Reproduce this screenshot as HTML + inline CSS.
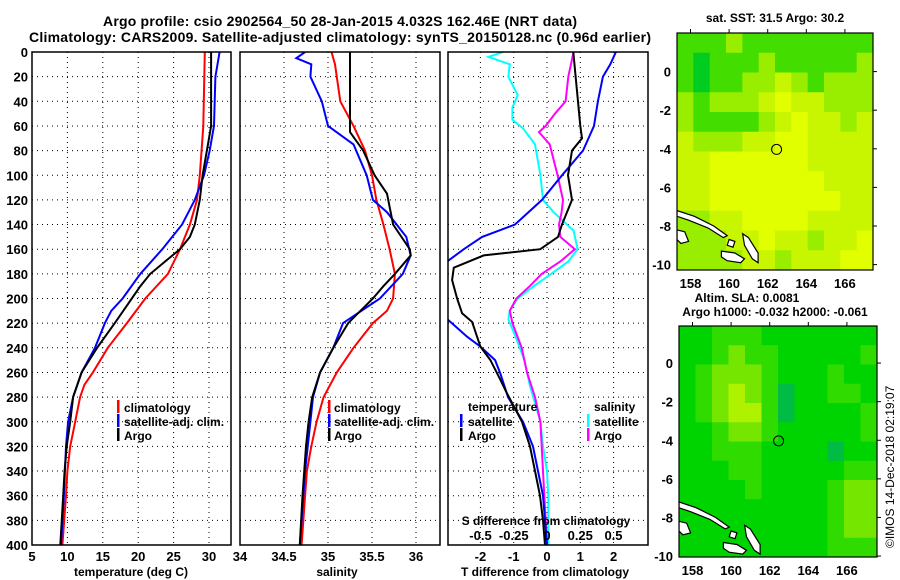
<!DOCTYPE html>
<html><head><meta charset="utf-8"><style>
html,body{margin:0;padding:0;background:#fff}
svg{display:block}
text{font-family:"Liberation Sans",sans-serif;font-weight:bold;fill:#000}
</style></head><body>
<svg id="chart" width="900" height="580" viewBox="0 0 900 580" xmlns="http://www.w3.org/2000/svg">
<defs>
<clipPath id="c1"><rect x="32" y="52" width="199" height="493"/></clipPath>
<clipPath id="c2"><rect x="240" y="52" width="200" height="493"/></clipPath>
<clipPath id="c3"><rect x="448" y="52" width="200" height="493"/></clipPath>
<clipPath id="cm1"><rect x="677" y="33" width="196" height="237"/></clipPath>
<clipPath id="cm2"><rect x="679" y="326" width="198" height="231"/></clipPath>
</defs>
<g>
<text x="340" y="26" font-size="14" text-anchor="middle" textLength="474">Argo profile: csio 2902564_50 28-Jan-2015 4.032S 162.46E (NRT data)</text>
<text x="340" y="42" font-size="14" text-anchor="middle" textLength="622">Climatology: CARS2009. Satellite-adjusted climatology: synTS_20150128.nc (0.96d earlier)</text>
</g>
<g id="grid"></g>
<g id="maps"></g>
<g id="series"></g>
<g id="axes"></g>
<g>
<rect x="117" y="400" width="2.5" height="13" fill="#f00"/><text x="124" y="412" font-size="12">climatology</text>
<rect x="117" y="414" width="2.5" height="13" fill="#00f"/><text x="124" y="426" font-size="12">satellite-adj. clim.</text>
<rect x="117" y="428" width="2.5" height="13" fill="#000"/><text x="124" y="440" font-size="12">Argo</text>
</g>
<g>
<rect x="328" y="400" width="2.5" height="13" fill="#f00"/><text x="334" y="412" font-size="12">climatology</text>
<rect x="328" y="414" width="2.5" height="13" fill="#00f"/><text x="334" y="426" font-size="12">satellite-adj. clim.</text>
<rect x="328" y="428" width="2.5" height="13" fill="#000"/><text x="334" y="440" font-size="12">Argo</text>
</g>
<g>
<text x="468" y="411" font-size="12">temperature</text>
<rect x="460" y="414" width="2.5" height="13" fill="#00f"/><text x="468" y="426" font-size="12">satellite</text>
<rect x="460" y="428" width="2.5" height="13" fill="#000"/><text x="468" y="440" font-size="12">Argo</text>
<text x="594" y="411" font-size="12">salinity</text>
<rect x="587" y="414" width="2.5" height="13" fill="#0ff"/><text x="594" y="426" font-size="12">satellite</text>
<rect x="587" y="428" width="2.5" height="13" fill="#f0f"/><text x="594" y="440" font-size="12">Argo</text>
</g>
<text x="546" y="525" font-size="12" text-anchor="middle">S difference from climatology</text>
<text x="131" y="576" font-size="12" text-anchor="middle">temperature (deg C)</text>
<text x="337" y="576" font-size="12" text-anchor="middle">salinity</text>
<text x="545" y="576" font-size="12" text-anchor="middle">T difference from climatology</text>
<text x="775" y="22" font-size="12" text-anchor="middle">sat. SST: 31.5 Argo: 30.2</text>
<text x="747" y="302" font-size="12" text-anchor="middle">Altim. SLA: 0.0081</text>
<text x="775" y="316" font-size="12" text-anchor="middle">Argo h1000: -0.032 h2000: -0.061</text>
<text x="0" y="0" font-size="12" transform="translate(894,548) rotate(-90)" style="font-weight:normal">©IMOS 14-Dec-2018 02:19:07</text>
</svg>
<script>
// ---- profile data (depth m, values) ----
const climDepth=[0,60,100,120,140,160,180,200,220,240,260,270,280,300,320,340,360,400];
const climTemp=[29.4,29.2,28.7,28.3,27.3,25.9,24.2,21.0,18.4,15.7,13.6,12.4,11.8,11.1,10.4,10.0,9.8,9.3];
const satDepth=[0,20,60,80,100,120,140,160,180,200,210,220,240,260,280,300,320,360,400];
const satTemp=[31.5,30.9,30.7,30.1,29.3,28.0,26.2,23.4,20.3,17.8,16.2,15.3,13.9,12.0,10.8,10.1,9.8,9.5,9.1];
const argoDepth=[0,60,70,100,120,140,150,160,170,180,190,200,220,240,260,280,300,320,340,360,400];
const argoTemp=[30.3,30.3,30.0,29.1,28.7,28.0,27.3,25.9,23.8,21.7,20.3,19.1,16.7,14.2,12.0,10.8,10.4,9.9,9.6,9.4,9.0];
const climSalDepth=[0,10,40,60,80,100,120,140,160,180,200,210,220,240,260,280,300,320,340,360,400];
const climSal=[35.04,35.08,35.14,35.29,35.42,35.50,35.55,35.63,35.70,35.76,35.74,35.67,35.51,35.29,35.10,34.95,34.87,34.81,34.76,34.74,34.70];
const satSalDepth=[0,5,10,20,40,60,75,100,120,130,150,165,180,200,220,240,260,280,300,340,400];
const satSal=[34.74,34.64,34.81,34.80,34.93,35.00,35.29,35.44,35.51,35.67,35.89,35.94,35.85,35.59,35.17,35.06,34.91,34.83,34.80,34.74,34.68];
const argoSalDepth=[0,65,80,100,115,140,160,165,180,190,200,220,240,260,280,300,320,360,400];
const argoSal=[35.25,35.25,35.40,35.53,35.67,35.74,35.93,35.94,35.76,35.63,35.51,35.23,35.06,34.91,34.82,34.78,34.75,34.71,34.68];
const dSatTDepth=[0,10,20,40,60,80,100,120,140,150,160,170,185,205,219,231,239,250,261,280,300,320,340,360,380,400];
const dSatT=[2.07,1.9,1.68,1.53,1.41,1.08,0.45,-0.15,-0.96,-1.95,-2.5,-3.0,-3.6,-3.5,-2.9,-2.4,-2.0,-1.56,-1.4,-1.17,-0.72,-0.42,-0.27,-0.12,-0.06,0];
const dArgoTDepth=[0,60,70,80,100,120,140,150,160,165,175,185,200,212,219,239,250,266,277,300,320,340,360,380,400];
const dArgoT=[0.79,1.0,1.05,0.75,0.63,0.75,0.45,0.33,-0.2,-1.9,-2.8,-2.85,-2.7,-2.55,-2.25,-2.0,-1.7,-1.4,-1.2,-0.75,-0.51,-0.36,-0.21,-0.12,-0.06];
const dSatSDepth=[0,4,10,20,35,45,55,62,75,100,120,130,145,160,170,180,190,200,210,217,230,250,270,300,320,340,360,400];
const dSatS=[-0.33,-0.44,-0.28,-0.29,-0.22,-0.26,-0.26,-0.18,-0.09,-0.05,-0.03,0.05,0.2,0.23,0.16,0.03,-0.1,-0.22,-0.28,-0.29,-0.24,-0.17,-0.13,-0.05,-0.03,0,0.01,0.01];
const dArgoSDepth=[0,20,40,50,60,65,75,100,120,130,140,150,160,170,180,190,200,210,220,240,260,280,300,320,340,360,400];
const dArgoS=[0.2,0.16,0.14,0.06,-0.01,-0.06,0.02,0.08,0.12,0.11,0.09,0.1,0.21,0.1,-0.04,-0.13,-0.23,-0.28,-0.26,-0.19,-0.15,-0.09,-0.05,-0.04,-0.03,-0.02,0];
// ---- tick labels ----
const depthTicks=[0,20,40,60,80,100,120,140,160,180,200,220,240,260,280,300,320,340,360,380,400];
const tempTicks=[5,10,15,20,25,30];
const salTicks=[34,34.5,35,35.5,36];
const tdiffTicks=[-2,-1,0,1,2];
const sdiffTicks=[-0.5,-0.25,0,0.25,0.5];
const sdiffLabels=["-0.5","-0.25","0","0.25","0.5"];
const latTicks=[0,-2,-4,-6,-8,-10];
const lonTicks=[158,160,162,164,166];
// ---- map grids (colour class per ~0.84deg lon x 1deg lat cell) ----
const sstGrid=[
"111211111111","101112111112","101122321222","212223433222","211112343323","322233443333",
"334444443333","334444444333","334444444433","223344443333","222334332334","222233233344"];
const slaGrid=[
"112221111111","112322111112","123332111211","123432011221","123442011112","112332111112",
"112221111011","111221111122","111121111233","111111111233","111111111233","111111111222"];
const sstColors=["#00cc22","#44dd00","#99ee00","#c8f600","#e2ff00"];
const slaColors=["#00bb44","#00d400","#30dc00","#74e600","#aef200"];
const argoLon=162.46, argoLat=-4.032;
const islands=[
[[157.3,-7.2],[158.2,-7.5],[159.2,-8.0],[159.9,-8.5],[159.7,-8.6],[158.9,-8.1],[157.9,-7.7],[157.3,-7.5]],
[[157.3,-8.2],[157.7,-8.3],[157.9,-8.8],[157.5,-8.9],[157.3,-8.7]],
[[160.7,-8.4],[161.0,-8.6],[161.5,-9.4],[161.5,-9.9],[161.2,-9.7],[160.8,-9.0]],
[[159.6,-9.3],[160.3,-9.4],[160.8,-9.7],[160.6,-9.9],[159.9,-9.8],[159.6,-9.6]],
[[160.0,-8.7],[160.3,-8.8],[160.2,-9.1],[159.9,-9.0]]];

const NS="http://www.w3.org/2000/svg";
function mk(tag,attrs,parent){const e=document.createElementNS(NS,tag);for(const k in attrs)e.setAttribute(k,attrs[k]);parent.appendChild(e);return e;}
const yD=d=>52+d*1.2325;
const xT=t=>32+(t-5)*7.08;
const xS=s=>240+(s-34)*88;
const xdT=v=>547+v*33.3;
const xdS=v=>547+v*133;
const grid=document.getElementById('grid'), series=document.getElementById('series'), axes=document.getElementById('axes'), maps=document.getElementById('maps');
const panels=[{x0:32,x1:231,name:'temperature',vx:[10,15,20,25,30].map(xT)},
{x0:240,x1:440,name:'salinity',vx:[34.5,35,35.5,36].map(xS)},
{x0:448,x1:648,name:'difference',vx:tdiffTicks.map(xdT)}];
panels.forEach(p=>{
  depthTicks.slice(1,-1).forEach(d=>{const l=mk('line',{x1:p.x0,x2:p.x1,y1:yD(d),y2:yD(d),stroke:'#000','stroke-width':1,'stroke-dasharray':'1,4'},grid);
    
    });
  p.vx.forEach(x=>{const l=mk('line',{x1:x,x2:x,y1:52,y2:545,stroke:'#000','stroke-width':1,'stroke-dasharray':'1,4'},grid);
    
    });
  const r=mk('rect',{x:p.x0,y:52,width:p.x1-p.x0,height:493,fill:'none',stroke:'#000','stroke-width':1.5},axes);
  
  
});
depthTicks.forEach(d=>{const t=mk('text',{x:28,y:yD(d)+5,'font-size':13,'text-anchor':'end'},axes);t.textContent=d;
  
  });
function xlab(vals,fx,y,labels,nm){vals.forEach((v,i)=>{const t=mk('text',{x:fx(v),y:y,'font-size':13,'text-anchor':'middle'},axes);t.textContent=labels?labels[i]:v;
  
  });}
xlab(tempTicks,xT,561,null,'temperature-tick-label');
xlab(salTicks,xS,561,null,'salinity-tick-label');
xlab(tdiffTicks,xdT,561,null,'t-diff-tick-label');
xlab(sdiffTicks,xdS,540,sdiffLabels,'s-diff-tick-label');
function line(ds,vs,fx,color,clip,nm){const pts=ds.map((d,i)=>fx(vs[i]).toFixed(1)+','+yD(d).toFixed(1)).join(' ');
  const pl=mk('polyline',{points:pts,fill:'none',stroke:color,'stroke-width':2,'clip-path':'url(#'+clip+')'},series);
  
  }
line(climDepth,climTemp,xT,'#f00','c1','climatology-temperature-line');
line(satDepth,satTemp,xT,'#00f','c1','satellite-temperature-line');
line(argoDepth,argoTemp,xT,'#000','c1','argo-temperature-line');
line(climSalDepth,climSal,xS,'#f00','c2','climatology-salinity-line');
line(satSalDepth,satSal,xS,'#00f','c2','satellite-salinity-line');
line(argoSalDepth,argoSal,xS,'#000','c2','argo-salinity-line');
line(dSatSDepth,dSatS,xdS,'#0ff','c3','satellite-s-diff-line');
line(dArgoSDepth,dArgoS,xdS,'#f0f','c3','argo-s-diff-line');
line(dSatTDepth,dSatT,xdT,'#00f','c3','satellite-t-diff-line');
line(dArgoTDepth,dArgoT,xdT,'#000','c3','argo-t-diff-line');
// ---- maps ----
function drawMap(g,colors,x0,y0,w,h,lonL,lat0,clip,nm){
  const mx=lon=>x0+(lon-lonL)*19.3, my=lat=>y0+(lat0-lat)*19.3;
  const gg=mk('g',{'clip-path':'url(#'+clip+')'},maps);
  const rows=g.length, cols=g[0].length, cw=w/cols, ch=h/rows;
  g.forEach((row,r)=>{for(let c=0;c<cols;c++){const cell=mk('rect',{x:x0+c*cw,y:y0+r*ch,width:cw+0.6,height:ch+0.6,fill:colors[+row[c]]},gg);
    
    }});
  islands.forEach(poly=>{const p=mk('polygon',{points:poly.map(q=>mx(q[0]).toFixed(1)+','+my(q[1]).toFixed(1)).join(' '),fill:'#fff',stroke:'#000','stroke-width':1.2},gg);
    
    });
  const ci=mk('circle',{cx:mx(argoLon),cy:my(argoLat),r:5,fill:'none',stroke:'#000','stroke-width':1},gg);
  
  
  const fr=mk('rect',{x:x0,y:y0,width:w,height:h,fill:'none',stroke:'#000','stroke-width':1.2},maps);
  
  
  latTicks.forEach(l=>{const t=mk('text',{x:x0-6,y:my(l)+5,'font-size':13,'text-anchor':'end'},maps);t.textContent=l;
    
    
    const tk=mk('line',{x1:x0+w,x2:x0+w+4,y1:my(l),y2:my(l),stroke:'#000'},maps);
    
    });
  lonTicks.forEach(l=>{const t=mk('text',{x:mx(l),y:y0+h+18,'font-size':13,'text-anchor':'middle'},maps);t.textContent=l;
    
    
    const tk=mk('line',{x1:mx(l),x2:mx(l),y1:y0-4,y2:y0,stroke:'#000'},maps);
    
    });
}
drawMap(sstGrid,sstColors,677,33,196,237,157.3,2.0,'cm1','sst-map');
drawMap(slaGrid,slaColors,679,326,198,231,157.3,1.92,'cm2','sla-map');
</script>
</body></html>
